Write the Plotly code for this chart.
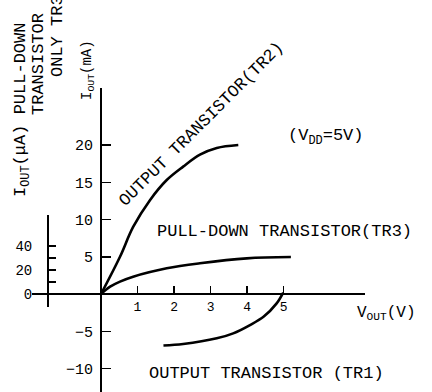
import plotly.graph_objects as go

# ---- data ----
tr2_v = [0, 0.52, 0.88, 1.34, 1.80, 2.25, 2.71, 3.17, 3.76]
tr2_ma = [0, 5.0, 9.0, 12.6, 15.3, 17.1, 18.7, 19.6, 20.0]

tr3_v = [0, 0.25, 0.52, 0.88, 1.80, 2.71, 3.99, 5.2]
tr3_ua = [0, 6.1, 10.3, 14.4, 21.4, 25.6, 29.7, 30.8]

tr1_v = [1.71, 2.25, 3.17, 3.62, 4.08, 4.45, 4.81, 4.99]
tr1_ma = [-6.91, -6.71, -5.95, -5.28, -4.16, -3.05, -1.25, 0.2]

x_ticks = [1, 2, 3, 4, 5]
x_tick_text = ["1", "2", "3", "4", "5"]
y_ticks = [-10, -5, 5, 10, 15, 20]
y_tick_text = ["\u221210", "\u22125", "5", "10", "15", "20"]
y2_ticks = [0, 10, 20, 30, 40]
y2_tick_text = ["0", "", "20", "", "40"]

FONT = "Liberation Mono"
W, H = 432, 392
L, R, T, B = 32, 67, 88, 0
PW, PH = W - L - R, H - T - B


def px(xp):
    return (xp - L) / PW


def py(yp):
    return (H - B - yp) / PH


fig = go.Figure()
line = dict(color="black", width=2.6, shape="spline")
fig.add_trace(go.Scatter(x=tr2_v, y=tr2_ma, mode="lines", line=line, xaxis="x", yaxis="y",
                         hoverinfo="skip", showlegend=False))
fig.add_trace(go.Scatter(x=tr3_v, y=tr3_ua, mode="lines", line=line, xaxis="x", yaxis="y2",
                         hoverinfo="skip", showlegend=False))
fig.add_trace(go.Scatter(x=tr1_v, y=tr1_ma, mode="lines", line=line, xaxis="x", yaxis="y",
                         hoverinfo="skip", showlegend=False))

axis_common = dict(showgrid=False, zeroline=False, showline=True, linecolor="black",
                   linewidth=2, ticks="inside", tickcolor="black", tickwidth=1.5,
                   automargin=False)

fig.update_layout(
    width=W, height=H,
    margin=dict(l=L, r=R, t=T, b=B, pad=0, autoexpand=False),
    paper_bgcolor="white", plot_bgcolor="rgba(0,0,0,0)",
    font=dict(family=FONT, color="black", size=14),
    xaxis=dict(range=[-1.89, 7.23], anchor="free", position=py(294),
               tickvals=x_ticks, ticktext=x_tick_text, ticklen=7,
               tickfont=dict(size=13, family=FONT), ticklabelstandoff=0, **axis_common),
    yaxis=dict(range=[-13.15, 27.65], anchor="free", position=px(101),
               tickvals=y_ticks, ticktext=y_tick_text, ticklen=9,
               tickfont=dict(size=15, family=FONT), ticklabelstandoff=4, **axis_common),
    yaxis2=dict(range=[-10.83, 65.83], domain=[py(307), py(215)], anchor="free",
                position=px(48), side="left",
                tickvals=y2_ticks, ticktext=y2_tick_text, ticklen=7,
                tickfont=dict(size=14, family=FONT), ticklabelstandoff=12, **axis_common),
)


def ann(text, xp, yp, size=17, angle=0):
    fig.add_annotation(text=text, x=px(xp), y=py(yp), xref="paper", yref="paper",
                       showarrow=False, textangle=angle, xanchor="center", yanchor="middle",
                       font=dict(size=size, family=FONT, color="black"))


ann("I<sub>OUT</sub>(mA)", 88, 70, size=14, angle=-90)
ann("I<sub>OUT</sub>(\u03bcA) PULL-DOWN", 22, 110, size=17, angle=-90)
ann("TRANSISTOR", 39, 64, size=17, angle=-90)
ann("ONLY TR3", 57, 36, size=17, angle=-90)
ann("OUTPUT TRANSISTOR(TR2)", 201, 124, size=17, angle=-45)
ann("(V<sub>DD</sub>=5V)", 326, 137, size=17)
ann("PULL-DOWN TRANSISTOR(TR3)", 284, 231, size=17)
ann("V<sub>OUT</sub>(V)", 386, 313, size=16)
ann("OUTPUT TRANSISTOR (TR1)", 266, 373, size=17)

fig.write_html(
    "out.html",
    config={"displayModeBar": False, "staticPlot": True},
    post_script="document.body.style.margin='0';document.body.style.padding='0';",
)
